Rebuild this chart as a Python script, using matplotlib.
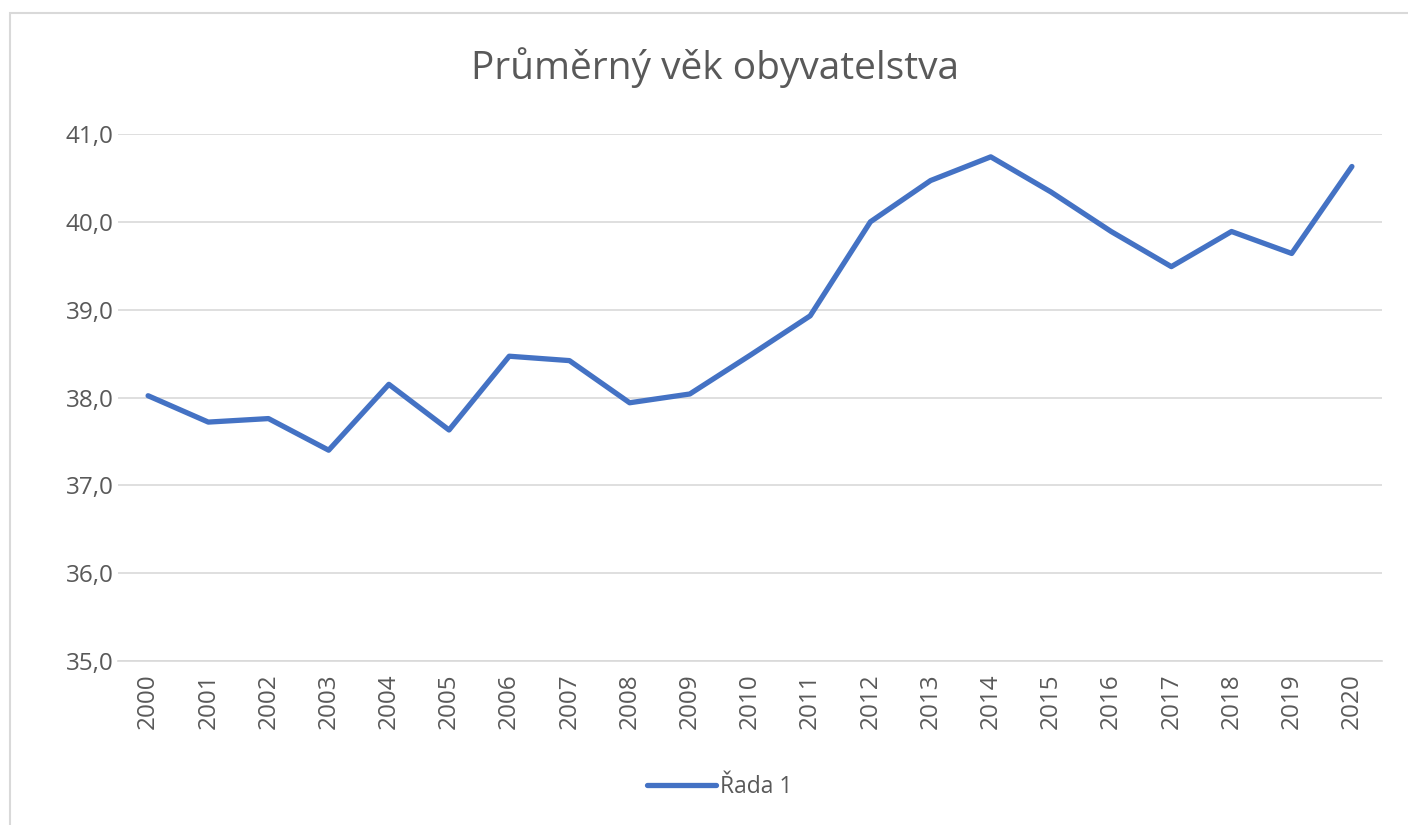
import matplotlib
matplotlib.use("Agg")
import matplotlib.pyplot as plt
from matplotlib.patches import Rectangle

years = [str(y) for y in range(2000, 2021)]
values = [38.02, 37.72, 37.76, 37.40, 38.15, 37.63, 38.47, 38.42, 37.94, 38.04,
          38.48, 38.93, 40.00, 40.47, 40.74, 40.34, 39.89, 39.49, 39.89, 39.64, 40.63]
yticks = [35, 36, 37, 38, 39, 40, 41]
title = "Průměrný věk obyvatelstva"
series_name = "Řada 1"

plt.rcParams['font.family'] = ['Open Sans', 'DejaVu Sans']
W, H = 1408, 825
fig = plt.figure(figsize=(W/100, H/100), dpi=100)
fig.patch.set_facecolor('white')

# chart border (right and bottom edges lie outside the image)
fig.add_artist(Rectangle((10/W, -0.1), 1.2, 1.1 - 13/H, transform=fig.transFigure,
                         fill=False, edgecolor='#d9d9d9', linewidth=1.5))

ax = fig.add_axes([118/W, 1 - 661/H, (1382-118)/W, (661-134)/H])
x = list(range(len(years)))
ax.plot(x, values, color='#4472C4', linewidth=3.8, solid_capstyle='round',
        solid_joinstyle='round', label=series_name)
ax.set_xlim(-0.5, len(years) - 0.5)
ax.set_ylim(35, 41)
ax.set_yticks(yticks)
ax.set_yticklabels([f"{v:.1f}".replace('.', ',') for v in yticks])
ax.set_xticks(x)
ax.set_xticklabels(years, rotation=90)
ax.grid(axis='y', color='#d9d9d9', linewidth=1.2)
ax.set_axisbelow(True)
for s in ['top', 'right', 'left']:
    ax.spines[s].set_visible(False)
ax.spines['bottom'].set_color('#d9d9d9')
ax.spines['bottom'].set_linewidth(1.2)
ax.tick_params(axis='both', length=0, labelsize=17.5, colors='#595959')
ax.tick_params(axis='y', pad=3)
ax.tick_params(axis='x', pad=9)

fig.text(715/W, 1 - 68/H, title, ha='center', va='center', fontsize=28, color='#595959')

leg = fig.legend(loc='center', bbox_to_anchor=(720/W, 1 - 787/H), frameon=False,
                 fontsize=16.5, handlelength=3.0, handletextpad=0.2)
for t in leg.get_texts():
    t.set_color('#595959')

fig.savefig('out.png', dpi=100)
